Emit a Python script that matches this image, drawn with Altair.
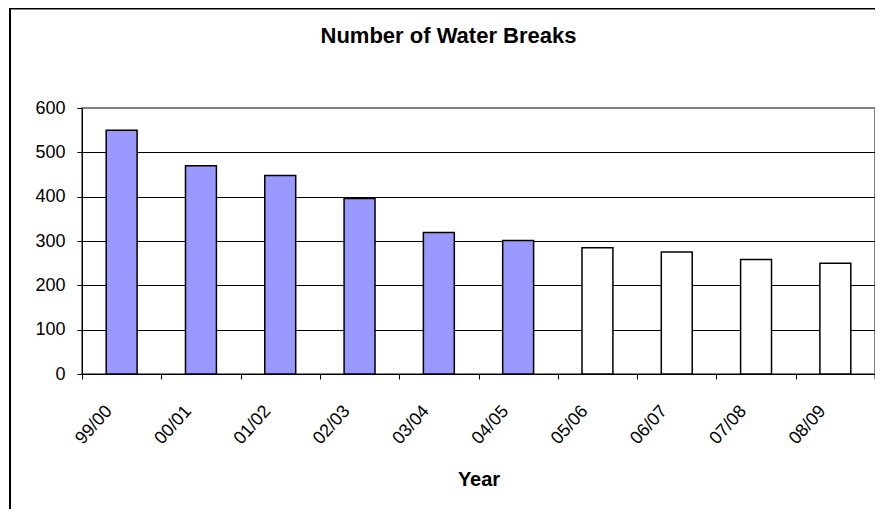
import altair as alt
import pandas as pd

years = ["99/00", "00/01", "01/02", "02/03", "03/04", "04/05", "05/06", "06/07", "07/08", "08/09"]
breaks = [550, 470, 448, 396, 319, 301, 285, 275, 258, 250]
kind = ["Actual", "Actual", "Actual", "Actual", "Actual", "Actual",
        "Projected", "Projected", "Projected", "Projected"]
y_ticks = [0, 100, 200, 300, 400, 500, 600]

FONT = "Liberation Sans"
W, H = 793, 266
step = W / len(years)

df = pd.DataFrame({"Year": years, "Breaks": breaks, "Kind": kind})
one = pd.DataFrame({"frame": [0]})

bars = alt.Chart(df).mark_bar(
    width=alt.RelativeBandSize(0.39), stroke="black", strokeWidth=1.5
).encode(
    x=alt.X(
        "Year:N", sort=years,
        scale=alt.Scale(paddingInner=0, paddingOuter=0),
        axis=alt.Axis(
            title="Year", labelAngle=-48, labelFont=FONT, labelFontSize=18,
            labelColor="black", tickOffset=-step / 2, labelOffset=step / 2 - 13,
            tickSize=5, tickColor="black", domainColor="black", labelPadding=29,
            titleFont=FONT, titleFontSize=20, titleFontWeight="bold",
            titleColor="black", titleY=111, titleBaseline="alphabetic",
        ),
    ),
    y=alt.Y(
        "Breaks:Q",
        scale=alt.Scale(domain=[0, 600], nice=False),
        axis=alt.Axis(
            title=None, values=y_ticks, labelFont=FONT, labelFontSize=18,
            labelColor="black", tickSize=5, tickColor="black", domainColor="black",
            labelPadding=12, grid=True,
            gridColor={"condition": {"test": "datum.value === 600", "value": "#808080"},
                       "value": "black"},
            gridWidth=1,
        ),
    ),
    fill=alt.Fill(
        "Kind:N",
        scale=alt.Scale(domain=["Actual", "Projected"], range=["#9999FF", "#FFFFFF"]),
        legend=None,
    ),
)

frame_top = alt.Chart(one).mark_rule(color="black", strokeWidth=2).encode(
    x=alt.value(-72), x2=alt.value(W + 8), y=alt.value(-99.5)
)
frame_left = alt.Chart(one).mark_rule(color="black", strokeWidth=2).encode(
    x=alt.value(-72), y=alt.value(-100), y2=alt.value(H + 135)
)
end_tick = alt.Chart(one).mark_rule(color="black", strokeWidth=1).encode(
    x=alt.value(W), y=alt.value(H), y2=alt.value(H + 5)
)

chart = alt.layer(bars, frame_top, frame_left, end_tick).properties(
    width=W,
    height=H,
    autosize=alt.AutoSizeParams(type="none"),
    padding={"left": 74, "top": 100, "right": 0, "bottom": 135},
    title=alt.TitleParams(
        "Number of Water Breaks", font=FONT, fontSize=22, fontWeight="bold",
        color="black", anchor="middle", frame="group", dx=-30, offset=0, dy=58,
        baseline="alphabetic",
    ),
).configure_view(stroke="#808080", strokeWidth=2)

chart.save("out.html", embed_options={"renderer": "svg", "actions": False})
